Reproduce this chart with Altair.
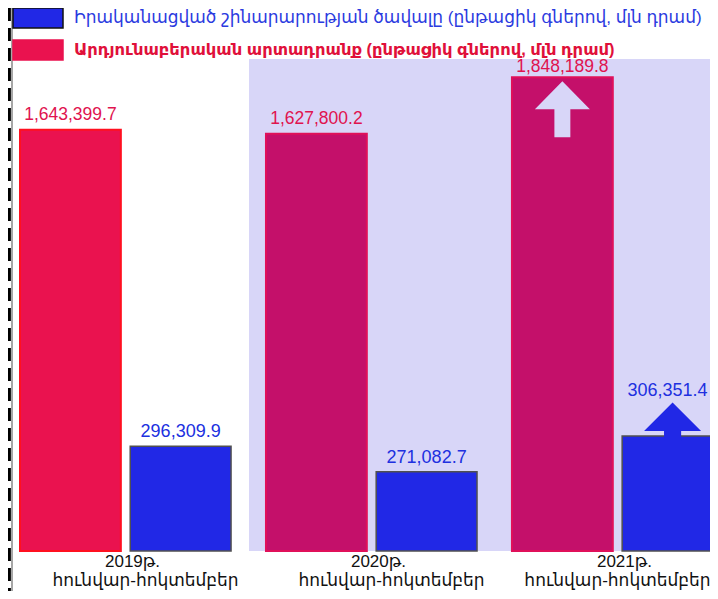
import altair as alt
import pandas as pd

years = ["2019", "2020", "2021"]
industrial = [1643399.7, 1627800.2, 1848189.8]
construction = [296309.9, 271082.7, 306351.4]
SER_CON = "Իրականացված շինարարության ծավալը (ընթացիկ գներով, մլն դրամ)"
SER_IND = "Արդյունաբերական արտադրանք (ընթացիկ գներով, մլն դրամ)"
period_line1 = ["2019թ.", "2020թ.", "2021թ."]
period_line2 = ["հունվար-հոկտեմբեր", "հունվար-հոկտեմբեր", "հունվար-հոկտեմբեր"]

RED_DOMAIN = [0, 2118611]
BLUE_BASE = 192320
BLUE_DOMAIN = [BLUE_BASE, 731290]

FONT = "Liberation Sans, Arial, DejaVu Sans"

ind_df = pd.DataFrame({"year": years, "series": SER_IND, "value": industrial})
con_df = pd.DataFrame({"year": years, "series": SER_CON, "value": construction})
lab_df = pd.DataFrame({"year": years, "l1": period_line1, "l2": period_line2})

xscale = alt.Scale(domain=years, range=[12, 715], paddingInner=0.142, paddingOuter=0)
X = alt.X("year:N", scale=xscale, axis=None)
XO = alt.XOffset("series:N", scale=alt.Scale(domain=[SER_IND, SER_CON], paddingInner=0.085, paddingOuter=0))
Y_RED = alt.Y("value:Q", scale=alt.Scale(domain=RED_DOMAIN), axis=None)
Y_BLUE = alt.Y("value:Q", scale=alt.Scale(domain=BLUE_DOMAIN, zero=False), axis=None)

cscale = alt.Scale(domain=[SER_CON, SER_IND], range=["#2128E6", "#EA124F"])
legend = alt.Legend(
    title=None, orient="none", legendX=19, legendY=-1, direction="vertical",
    symbolType="M-2.5,-1H2.5V1H-2.5Z", symbolSize=400,
    symbolStrokeColor={"expr": f"datum.value == '{SER_CON}' ? '#111111' : '#EA124F'"},
    symbolStrokeWidth=1.5, symbolOpacity=1,
    labelOffset=25, rowPadding=6, padding=0, labelLimit=0,
    labelFont=FONT,
    labelFontSize={"expr": f"datum.value == '{SER_CON}' ? 17 : 16.4"},
    labelColor={"expr": f"datum.value == '{SER_CON}' ? '#2B3BE0' : '#E0103A'"},
    labelFontWeight={"expr": f"datum.value == '{SER_CON}' ? 'normal' : 'bold'"},
)

# decorations
left_dash = alt.Chart(lab_df).mark_rule(color="black", strokeWidth=3, strokeDash=[13, 7]).encode(
    x=alt.value(1), y=alt.value(0), y2=alt.value(583))
left_thin = alt.Chart(lab_df).mark_rule(color="#9a9a9a", strokeWidth=1).encode(
    x=alt.value(4), y=alt.value(0), y2=alt.value(583))
panel = alt.Chart(lab_df).mark_rect(color="#D8D6F8").encode(
    x=alt.value(241), x2=alt.value(702), y=alt.value(51), y2=alt.value(543))

red_bars = alt.Chart(ind_df).mark_bar(strokeWidth=2).encode(
    x=X, xOffset=XO, y=Y_RED,
    color=alt.condition("datum.year == '2019'", alt.Color("series:N", scale=cscale, legend=legend), alt.value("#C4106A")),
    stroke=alt.condition("datum.year == '2019'", alt.value("#FF1020"), alt.value("#E0105A")),
)
blue_bars = alt.Chart(con_df).mark_bar(stroke="#505050", strokeWidth=1.5).encode(
    x=X, xOffset=XO, y=Y_BLUE, y2=alt.datum(BLUE_BASE),
    color=alt.Color("series:N", scale=cscale, legend=legend),
)

red_lab = alt.Chart(ind_df).transform_filter("datum.year != '2021'").mark_text(
    dy=-10, baseline="alphabetic", font=FONT, fontSize=17.5, color="#E0134F").encode(
    x=X, xOffset=XO, y=Y_RED, text=alt.Text("value:Q", format=",.1f"))
red_lab21 = alt.Chart(ind_df).transform_filter("datum.year == '2021'").mark_text(
    dy=-5, baseline="alphabetic", font=FONT, fontSize=17.5, color="#E0134F").encode(
    x=X, xOffset=XO, y=Y_RED, text=alt.Text("value:Q", format=",.1f"))
blue_lab = alt.Chart(con_df).transform_filter("datum.year != '2021'").mark_text(
    dy=-9, baseline="alphabetic", font=FONT, fontSize=18, color="#2030E0").encode(
    x=X, xOffset=XO, y=Y_BLUE, text=alt.Text("value:Q", format=",.1f"))
blue_lab21 = alt.Chart(con_df).transform_filter("datum.year == '2021'").mark_text(
    dy=-40, dx=-5, baseline="alphabetic", font=FONT, fontSize=18, color="#2030E0").encode(
    x=X, xOffset=XO, y=Y_BLUE, text=alt.Text("value:Q", format=",.1f"))

ARROW_RED = "M0,-1.02L1,0L0.29,0L0.29,1.02L-0.29,1.02L-0.29,0L-1,0Z"
ARROW_BLUE = "M0,-1L1,0L0.3,0L0.3,0.35L-0.3,0.35L-0.3,0L-1,0Z"
red_arrow = alt.Chart(ind_df).transform_filter("datum.year == '2021'").mark_point(
    shape=ARROW_RED, filled=True, size=3025, color="#D8D6F8", opacity=1, yOffset=32).encode(
    x=X, xOffset=XO, y=Y_RED)
blue_arrow = alt.Chart(con_df).transform_filter("datum.year == '2021'").mark_point(
    shape=ARROW_BLUE, filled=True, size=3249, color="#2128E6", opacity=1, yOffset=-5, xOffset=-3).encode(
    x=X, xOffset=XO, y=Y_BLUE)

cat1 = alt.Chart(lab_df).mark_text(dx=7, baseline="alphabetic", font=FONT, fontSize=17, color="#111111").encode(
    x=X, y=alt.value(559), text="l1:N")
cat2 = alt.Chart(lab_df).transform_filter("datum.year != '2021'").mark_text(
    dx=20, baseline="alphabetic", font=FONT, fontSize=17, color="#111111").encode(
    x=X, y=alt.value(578), text="l2:N")
cat2_last = alt.Chart(lab_df).transform_filter("datum.year == '2021'").mark_text(
    dx=0, baseline="alphabetic", font=FONT, fontSize=17, color="#111111").encode(
    x=X, y=alt.value(578), text="l2:N")

chart = alt.layer(
    panel, left_thin, left_dash, red_bars, blue_bars, red_arrow, blue_arrow,
    red_lab, red_lab21, blue_lab, blue_lab21, cat1, cat2, cat2_last,
).resolve_scale(y="independent").properties(
    width=702, height=543,
    padding={"left": 0, "top": 0, "right": 0, "bottom": 40},
    autosize=alt.AutoSizeParams(type="none"),
    background="white",
).configure_view(stroke=None)

chart.save("out.html", embed_options={"renderer": "svg", "actions": False})
